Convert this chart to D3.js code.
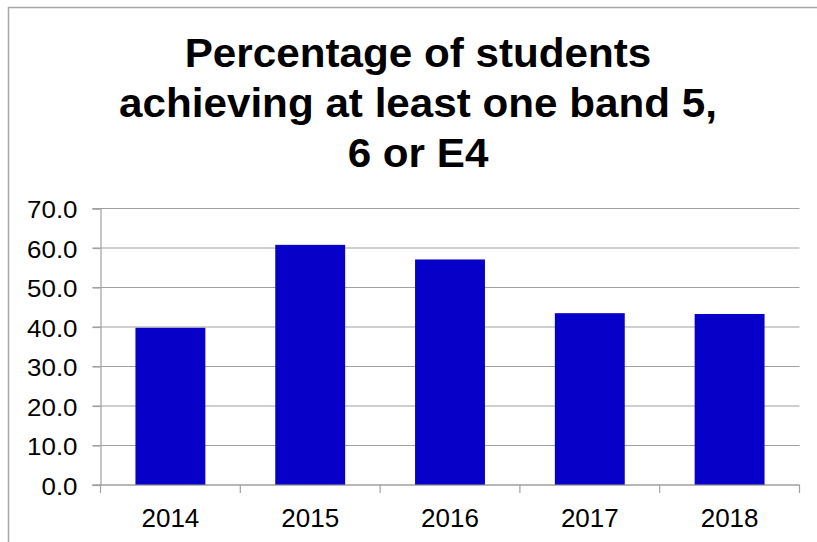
<!DOCTYPE html>
<html>
<head>
<meta charset="utf-8">
<script src="https://cdn.jsdelivr.net/npm/d3@7"></script>
<style>
  html, body { margin: 0; padding: 0; background: #fff; }
  svg { display: block; font-family: "Liberation Sans", Arial, sans-serif; }
</style>
</head>
<body>
<div id="chart"></div>
<script>
const years  = ["2014", "2015", "2016", "2017", "2018"];
const values = [39.8, 60.8, 57.1, 43.5, 43.3];
const yTicks = [0, 10, 20, 30, 40, 50, 60, 70];
const titleLines = ["Percentage of students", "achieving at least one band 5,", "6 or E4"];

const width = 817, height = 542;
const plot = { left: 100.5, right: 799.5, top: 208.5, bottom: 485 };
const grey = "#a0a0a0";

const svg = d3.select("#chart")
  .append("svg")
    .attr("width", width)
    .attr("height", height);

// outer chart frame (runs off the right and bottom edges)
svg.append("rect")
  .attr("x", 8.5).attr("y", 7.5)
  .attr("width", 900).attr("height", 600)
  .attr("fill", "none")
  .attr("stroke", "#a6a6a6")
  .attr("stroke-width", 1.5);

// title
svg.append("g")
  .selectAll("text")
  .data(titleLines)
  .join("text")
    .attr("transform", (d, i) => `translate(418,${67 + i * 50}) scale(1.055,1)`)
    .attr("text-anchor", "middle")
    .attr("font-size", 40)
    .attr("font-weight", "bold")
    .attr("fill", "#000")
    .text(d => d);

const x = d3.scaleBand()
  .domain(years)
  .range([plot.left, plot.right])
  .paddingInner(0.5)
  .paddingOuter(0.25);

const y = d3.scaleLinear()
  .domain([0, 70])
  .range([plot.bottom, plot.top]);

// gridlines
svg.append("g")
  .selectAll("line")
  .data(yTicks)
  .join("line")
    .attr("x1", plot.left - 8)
    .attr("x2", plot.right)
    .attr("y1", d => y(d))
    .attr("y2", d => y(d))
    .attr("stroke", grey)
    .attr("stroke-width", 1.2);

// bars
svg.append("g")
  .selectAll("rect")
  .data(years)
  .join("rect")
    .attr("x", d => x(d))
    .attr("y", (d, i) => y(values[i]))
    .attr("width", x.bandwidth())
    .attr("height", (d, i) => y(0) - y(values[i]))
    .attr("fill", "#0700c9");

// y axis
const yAxis = svg.append("g")
  .attr("transform", `translate(${plot.left},0)`)
  .call(d3.axisLeft(y).tickValues(yTicks).tickFormat(d3.format(".1f")).tickSize(8).tickPadding(15));
yAxis.select(".domain").attr("stroke", grey).attr("stroke-width", 1.2);
yAxis.selectAll(".tick line").attr("stroke", grey).attr("stroke-width", 1.2);
yAxis.selectAll(".tick text")
  .attr("font-size", 24)
  .attr("fill", "#000")
  .attr("font-family", "Liberation Sans, Arial, sans-serif")
  .attr("x", -23 / 1.08)
  .attr("dy", "0.39em")
  .attr("transform", "scale(1.08,1)");

// x axis: labels from the band scale, ticks at band boundaries
const xAxis = svg.append("g")
  .attr("transform", `translate(0,${plot.bottom})`)
  .call(d3.axisBottom(x).tickSize(0).tickPadding(23.5));
xAxis.select(".domain").remove();
xAxis.selectAll(".tick text")
  .attr("font-size", 26)
  .attr("fill", "#000")
  .attr("font-family", "Liberation Sans, Arial, sans-serif");

const bounds = years.map(d => x(d) - x.step() * x.paddingOuter()).concat([plot.right]);
svg.append("line")
  .attr("x1", plot.left - 8).attr("x2", plot.right)
  .attr("y1", plot.bottom).attr("y2", plot.bottom)
  .attr("stroke", grey).attr("stroke-width", 1.2);
svg.append("g")
  .selectAll("line")
  .data(bounds)
  .join("line")
    .attr("x1", d => d).attr("x2", d => d)
    .attr("y1", plot.bottom).attr("y2", plot.bottom + 8)
    .attr("stroke", grey)
    .attr("stroke-width", 1.2);
</script>
</body>
</html>
